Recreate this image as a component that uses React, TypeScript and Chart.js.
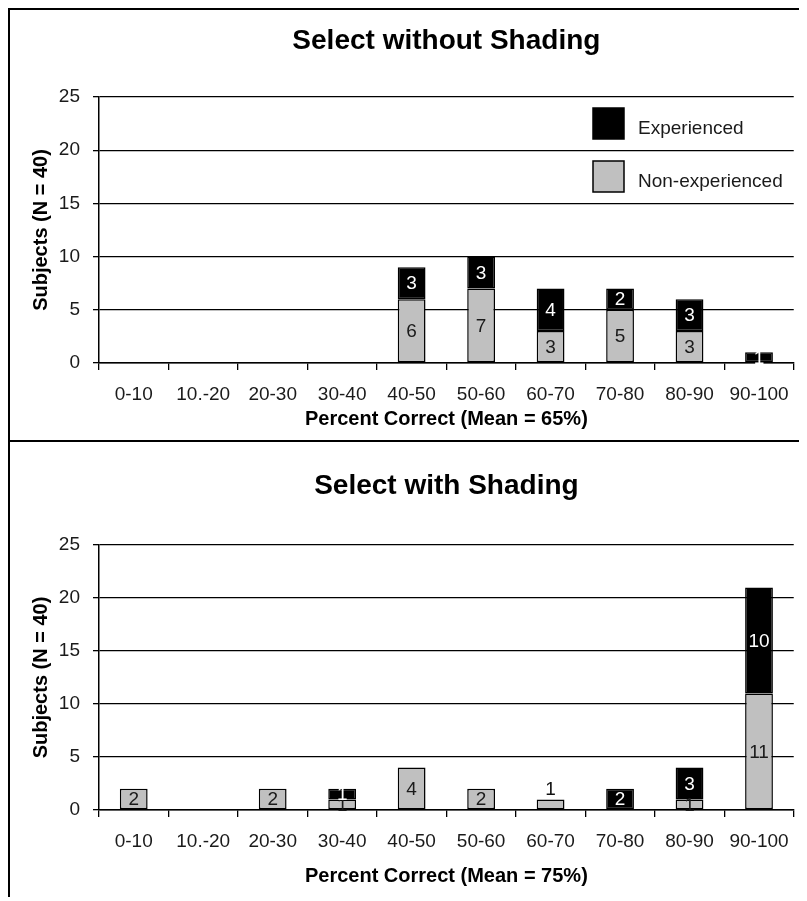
import React, { useEffect, useRef } from "react";
import { Chart, registerables } from "chart.js";

Chart.register(...registerables);

const FONT = "'Liberation Sans', Arial, Helvetica, sans-serif";

const categories = ["0-10", "10.-20", "20-30", "30-40", "40-50", "50-60", "60-70", "70-80", "80-90", "90-100"];
const yTicks = [0, 5, 10, 15, 20, 25];
const seriesNames = ["Non-experienced", "Experienced"];

const topTitle = "Select without Shading";
const topXTitle = "Percent Correct (Mean = 65%)";
const topNonExperienced = [0, 0, 0, 0, 6, 7, 3, 5, 3, 0];
const topExperienced = [0, 0, 0, 0, 3, 3, 4, 2, 3, 1];

const bottomTitle = "Select with Shading";
const bottomXTitle = "Percent Correct (Mean = 75%)";
const bottomNonExperienced = [2, 0, 2, 1, 4, 2, 1, 0, 1, 11];
const bottomExperienced = [0, 0, 0, 1, 0, 0, 0, 2, 3, 10];

const yTitle = "Subjects (N = 40)";

const GRAY = "#c0c0c0";
const BLACK = "#000000";

const valueLabels = {
  id: "valueLabels",
  afterDatasetsDraw(chart: any) {
    const ctx = chart.ctx;
    ctx.save();
    ctx.font = `19px ${FONT}`;
    ctx.textAlign = "center";
    ctx.textBaseline = "middle";
    chart.data.datasets.forEach((ds: any, di: number) => {
      const meta = chart.getDatasetMeta(di);
      meta.data.forEach((el: any, i: number) => {
        const v = ds.data[i];
        if (!v) return;
        const { x, y, base } = el.getProps(["x", "y", "base"], true);
        const h = Math.abs(base - y);
        const nothingAbove = chart.data.datasets.slice(di + 1).every((d: any) => !d.data[i]);
        let ty = (y + base) / 2;
        let color = ds.labelColor;
        if (h < 14 && nothingAbove && di === 0) {
          ty = y - 11;
          color = "#111";
        }
        ctx.fillStyle = color;
        ctx.fillText(String(v), x, ty + 1);
      });
    });
    ctx.restore();
  },
};

const insideLegend = {
  id: "insideLegend",
  afterDatasetsDraw(chart: any, _args: any, opts: any) {
    if (!opts || !opts.show) return;
    const ctx = chart.ctx;
    const { left, top } = chart.chartArea;
    const items = [...chart.data.datasets].reverse();
    ctx.save();
    ctx.font = `19px ${FONT}`;
    ctx.textAlign = "left";
    ctx.textBaseline = "middle";
    items.forEach((ds: any, k: number) => {
      const bx = left + opts.x;
      const by = top + opts.y + k * opts.gap;
      ctx.fillStyle = ds.backgroundColor;
      ctx.fillRect(bx, by, opts.box, opts.box);
      ctx.strokeStyle = "#000";
      ctx.lineWidth = 1.5;
      ctx.strokeRect(bx, by, opts.box, opts.box);
      ctx.fillStyle = "#1a1a1a";
      ctx.fillText(ds.label, bx + opts.box + 14, by + opts.box / 2 + 5);
    });
    ctx.restore();
  },
};

type PanelProps = {
  title: string;
  xTitle: string;
  nonExp: number[];
  exp: number[];
  showLegend: boolean;
  height: number;
  titlePadTop: number;
  titlePadBottom: number;
  xScaleHeight: number;
  xTitlePadBottom: number;
  borderTop: boolean;
};

function Panel(p: PanelProps) {
  const ref = useRef<HTMLCanvasElement | null>(null);
  useEffect(() => {
    if (!ref.current) return;
    const chart = new Chart(ref.current, {
      type: "bar",
      data: {
        labels: categories,
        datasets: [
          {
            label: seriesNames[0],
            data: p.nonExp,
            backgroundColor: GRAY,
            borderColor: "#000",
            borderWidth: 1.5,
            borderSkipped: false,
            barPercentage: 0.4,
            categoryPercentage: 1,
            labelColor: "#1a1a1a",
          } as any,
          {
            label: seriesNames[1],
            data: p.exp,
            backgroundColor: BLACK,
            borderColor: "#000",
            borderWidth: 1.5,
            borderSkipped: false,
            barPercentage: 0.4,
            categoryPercentage: 1,
            labelColor: "#ffffff",
          } as any,
        ],
      },
      options: {
        animation: false,
        responsive: true,
        maintainAspectRatio: false,
        layout: { padding: { left: 0, right: 0, top: 0, bottom: 0 } },
        plugins: {
          legend: { display: false },
          tooltip: { enabled: false },
          title: {
            display: true,
            text: p.title,
            color: "#000",
            fullSize: false,
            font: { family: FONT, size: 28, weight: "bold" },
            padding: { top: p.titlePadTop, bottom: p.titlePadBottom },
          },
          insideLegend: { show: p.showLegend, x: 494, y: 11, gap: 53, box: 31 },
        } as any,
        scales: {
          x: {
            stacked: true,
            afterFit: (s: any) => {
              s.height = p.xScaleHeight;
            },
            grid: {
              display: true,
              drawOnChartArea: false,
              drawTicks: true,
              tickLength: 7,
              color: "#000",
              lineWidth: 1.3,
              offset: true,
            },
            border: { display: true, color: "#000", width: 1.5 },
            ticks: {
              color: "#1a1a1a",
              font: { family: FONT, size: 19 },
              padding: 13,
              maxRotation: 0,
              autoSkip: false,
            },
            title: {
              display: true,
              text: p.xTitle,
              color: "#000",
              font: { family: FONT, size: 20, weight: "bold" },
              padding: { top: 0, bottom: p.xTitlePadBottom },
            },
          },
          y: {
            stacked: true,
            min: yTicks[0],
            max: yTicks[yTicks.length - 1],
            afterFit: (s: any) => {
              s.width = 89;
            },
            afterBuildTicks: (s: any) => {
              s.ticks = yTicks.map((v) => ({ value: v }));
            },
            grid: {
              color: "#000",
              lineWidth: 1.3,
              drawTicks: true,
              tickLength: 6,
            },
            border: { display: true, color: "#000", width: 1.5 },
            ticks: {
              color: "#1a1a1a",
              font: { family: FONT, size: 19 },
              padding: 13,
            },
            title: {
              display: true,
              text: yTitle,
              color: "#000",
              font: { family: FONT, size: 20, weight: "bold" },
              padding: { top: 19.5, bottom: 0 },
            },
          },
        },
      },
      plugins: [valueLabels, insideLegend],
    });
    return () => chart.destroy();
  }, []);

  return (
    <div
      style={{
        width: 792,
        height: p.height,
        borderLeft: "2px solid #000",
        borderRight: "2px solid #000",
        borderTop: p.borderTop ? "2px solid #000" : "none",
        borderBottom: p.borderTop ? "2px solid #000" : "none",
        position: "relative",
        background: "#fff",
      }}
    >
      <canvas ref={ref} />
    </div>
  );
}

export default function App() {
  useEffect(() => {
    document.documentElement.style.overflow = "hidden";
    document.body.style.overflow = "hidden";
  }, []);
  return (
    <div style={{ width: 796 }}>
      <Panel
        title={topTitle}
        xTitle={topXTitle}
        nonExp={topNonExperienced}
        exp={topExperienced}
        showLegend={true}
        height={430}
        titlePadTop={14.2}
        titlePadBottom={39.2}
        xScaleHeight={77}
        xTitlePadBottom={9}
        borderTop={true}
      />
      <Panel
        title={bottomTitle}
        xTitle={bottomXTitle}
        nonExp={bottomNonExperienced}
        exp={bottomExperienced}
        showLegend={false}
        height={455}
        titlePadTop={27.2}
        titlePadBottom={42.2}
        xScaleHeight={87}
        xTitlePadBottom={9}
        borderTop={false}
      />
    </div>
  );
}
